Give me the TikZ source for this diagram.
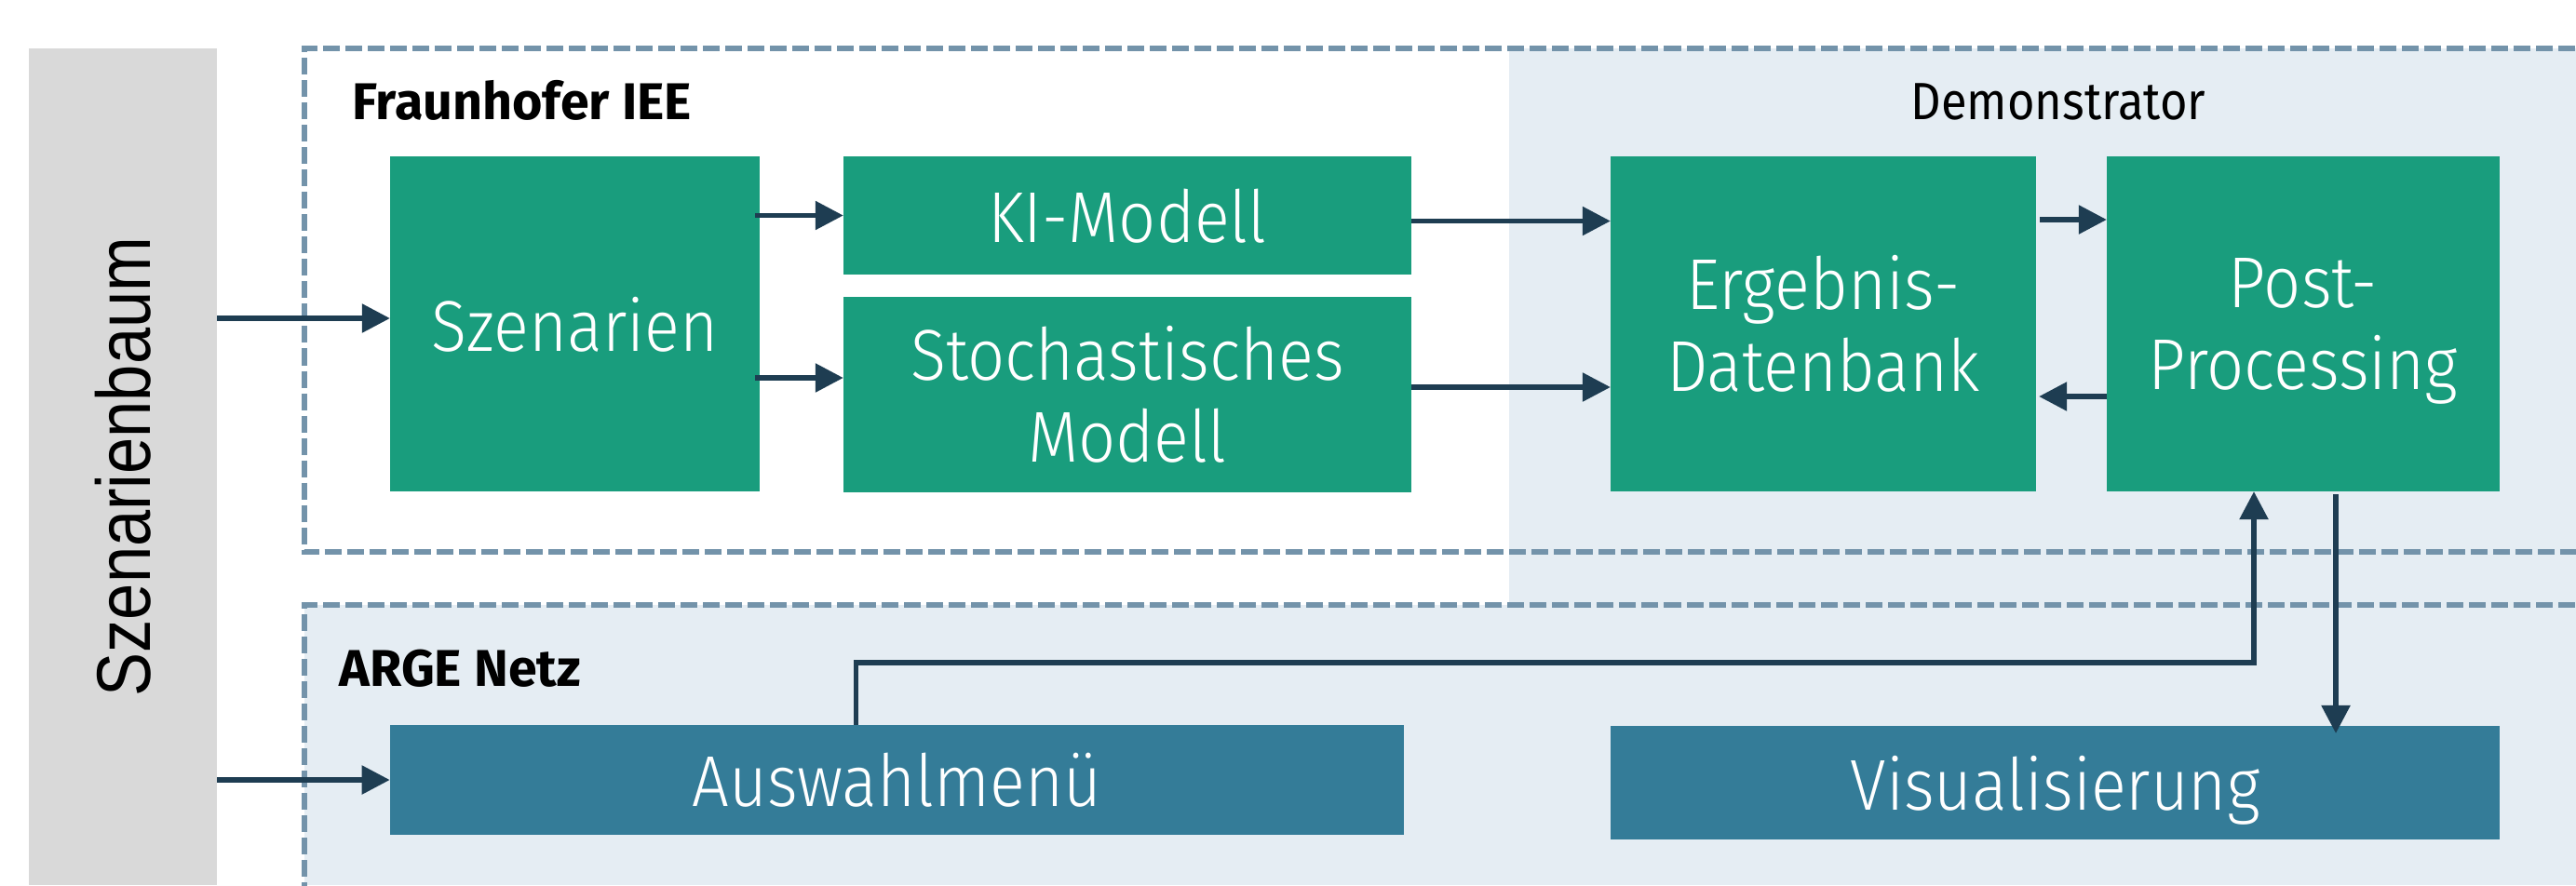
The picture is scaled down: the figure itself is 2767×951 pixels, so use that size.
\documentclass[tikz,border=0pt]{standalone}
\usepackage{fontspec}
\usepackage{graphicx}
\setmainfont{Fira Sans}
\newfontfamily\lightfont{Fira Sans Light}[FakeStretch=0.91]
\newfontfamily\demofont{Fira Sans}[FakeStretch=0.9]
\newfontfamily\baumfont{Liberation Sans}
\usetikzlibrary{arrows.meta,calc}
\definecolor{fgreen}{HTML}{199D7D}
\definecolor{fblue}{HTML}{347C98}
\definecolor{darrow}{HTML}{1E3D52}
\definecolor{lightfill}{HTML}{E5EDF3}
\definecolor{dashcol}{HTML}{7393AA}
\definecolor{bargray}{HTML}{D9D9D9}
\tikzset{
  gbox/.style={fill=fgreen, text=white, inner sep=0pt, outer sep=0pt,
    font=\lightfont\fontsize{22}{25.04}\selectfont},
  bbox/.style={fill=fblue, text=white, inner sep=0pt, outer sep=0pt,
    font=\lightfont\fontsize{22}{25.04}\selectfont, text depth=0pt},
  arr/.style={draw=darrow, line width=0.055cm, -{Triangle[length=0.3cm,width=0.3cm]}},
  dashbox/.style={draw=dashcol, line width=0.055cm, dash pattern=on 0.18cm off 0.06cm},
  grouplbl/.style={inner sep=0pt, font=\fontsize{15.8}{18}\selectfont\bfseries},
  demolbl/.style={inner sep=0pt, font=\demofont\fontsize{16}{19}\selectfont},
  barbox/.style={fill=bargray, inner sep=0pt, outer sep=0pt},
}
\begin{document}
\begin{tikzpicture}[x=0.01cm, y=-0.01cm]
\useasboundingbox (0,0) rectangle (2767,951);
% backgrounds
\fill[lightfill] (1621,52) rectangle (2767,650);
\fill[lightfill] (327,650) rectangle (2767,951);
% group frames
\draw[dashbox] (2790,52) -- (327,52) -- (327,593) -- (2790,593);
\draw[dashbox] (2790,650) -- (327,650) -- (327,975);
% side bar
\node[barbox, minimum width=2.02cm, minimum height=8.99cm] (baum) at (132,501.5)
  {\rotatebox{90}{\scalebox{0.86}[1]{\baumfont\fontsize{23.3}{28}\selectfont Szenarienbaum}}};
% labels
\node[grouplbl, anchor=base west] (fhg) at (378,128) {Fraunhofer IEE};
\node[demolbl, anchor=base] (demo) at (2211,128) {Demonstrator};
\node[grouplbl, anchor=base west] (arge) at (364,737) {ARGE Netz};
% boxes
\node[gbox, text depth=0pt, minimum width=3.97cm, minimum height=3.60cm] (szen) at (617.5,348) {Szenarien};
\node[gbox, text depth=0pt, minimum width=6.10cm, minimum height=1.27cm] (ki) at (1211,231.5) {KI-Modell};
\node[gbox, align=center, minimum width=6.10cm, minimum height=2.10cm] (stoch) at (1211,424) {Stochastisches\\Modell};
\node[gbox, align=center, minimum width=4.57cm, minimum height=3.60cm] (erg) at (1958.5,348) {Ergebnis-\\Datenbank};
\node[gbox, align=center, minimum width=4.22cm, minimum height=3.60cm] (post) at (2474,348) {Post-\\\smash{Processing}};
\node[bbox, minimum width=10.89cm, minimum height=1.18cm] (ausw) at (963.5,838) {Auswahlmenü};
\node[bbox, minimum width=9.55cm, minimum height=1.22cm] (vis) at (2207.5,841) {Visualisierung};
% connectors
\coordinate (s1) at ($(szen.west)+(0,-6)$);
\draw[arr] (s1 -| baum.east) -- (s1);
\draw[arr] (ausw.west -| baum.east) -- (ausw.west);
\coordinate (s3) at ($(szen.east)+(-5,0)$);
\draw[arr] (s3 |- ki.west) -- (ki.west);
\coordinate (s4) at ($(stoch.west)+(0,-18)$);
\draw[arr] (s3 |- s4) -- (s4);
\coordinate (k5) at ($(ki.east)+(0,6)$);
\draw[arr] (k5) -- (k5 -| erg.west);
\coordinate (k6) at ($(stoch.east)+(0,-8)$);
\draw[arr] (k6) -- (k6 -| erg.west);
\coordinate (k7) at ($(erg.east)+(4,-112)$);
\draw[arr] (k7) -- (k7 -| post.west);
\coordinate (k8) at ($(post.west)+(0,78)$);
\draw[arr] (k8) -- ($(k8 -| erg.east)+(3,0)$);
\coordinate (u9) at ($(ausw.north west)+(501,0)$);
\coordinate (p9) at ($(post.south)+(-53,0)$);
\draw[arr] (u9) -- ++(0,-67) -| (p9);
\coordinate (d10) at ($(post.south)+(35,3)$);
\draw[arr] (d10) -- ($(d10 |- vis.north)+(0,8)$);
\end{tikzpicture}
\end{document}
